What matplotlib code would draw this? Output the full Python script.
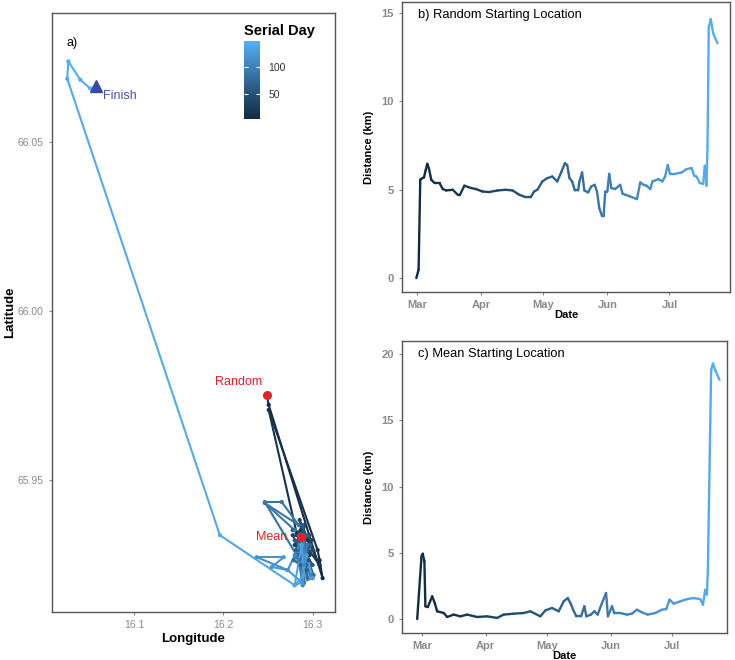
import numpy as np
import pandas as pd
import matplotlib
matplotlib.use("Agg")
import matplotlib.pyplot as plt
import matplotlib.dates as mdates
from matplotlib.collections import LineCollection
from matplotlib.colors import ListedColormap, Normalize, to_rgb

plt.rcParams['font.family'] = ['Liberation Sans', 'DejaVu Sans']

# ---- panel a: track (serial day, longitude, latitude)
track_day = [6, 7, 9, 11, 13, 15, 17, 19, 21,
             23, 25, 27, 29, 31, 33, 35, 37, 39, 41, 43, 45, 47, 49, 51, 53, 55, 57,
             59, 61, 63, 65, 67, 69, 71, 73, 75, 77, 79, 81, 83, 85, 87, 89, 91, 93,
             95, 97, 99, 101, 103, 105, 107, 109, 111, 113,
             117, 119, 121, 123, 125, 127, 129, 131, 133, 135, 137, 139,
             141, 142, 143, 145, 146]
track_lon = [16.2486, 16.2508, 16.3112, 16.3078, 16.3056, 16.2508, 16.2821, 16.3078, 16.2944,
             16.2866, 16.2966, 16.2799, 16.2911, 16.2843, 16.2988, 16.2777, 16.2922, 16.2855,
             16.3000, 16.2810, 16.2900, 16.2777, 16.2966, 16.2900, 16.2843, 16.2955, 16.2866,
             16.3000, 16.2799, 16.2933, 16.2888, 16.2810, 16.2977, 16.2866, 16.2922, 16.2788,
             16.3011, 16.2877, 16.2944, 16.2821, 16.2464, 16.2654, 16.2843, 16.2464, 16.2799,
             16.2933, 16.2888, 16.2843, 16.2977, 16.2866, 16.2910, 16.2799, 16.3000, 16.2855,
             16.2721,
             16.2374, 16.2676, 16.2542, 16.2721, 16.2888, 16.2933, 16.3000, 16.2799, 16.2877,
             16.2900, 16.2799, 16.1961,
             16.0251, 16.0263, 16.0397, 16.0508, 16.0575]
track_lat = [65.9751, 65.9722, 65.9210, 65.9263, 65.9293, 65.9707, 65.9343, 65.9249, 65.9322,
             65.9352, 65.9278, 65.9308, 65.9367, 65.9263, 65.9322, 65.9337, 65.9249, 65.9382,
             65.9293, 65.9278, 65.9343, 65.9352, 65.9337, 65.9195, 65.9337, 65.9263, 65.9308,
             65.9249, 65.9322, 65.9234, 65.9367, 65.9293, 65.9308, 65.9249, 65.9337, 65.9263,
             65.9219, 65.9322, 65.9210, 65.9278, 65.9435, 65.9435, 65.9367, 65.9432, 65.9352,
             65.9308, 65.9189, 65.9263, 65.9219, 65.9337, 65.9249, 65.9278, 65.9210, 65.9308,
             65.9234,
             65.9272, 65.9272, 65.9243, 65.9234, 65.9195, 65.9278, 65.9210, 65.9189, 65.9308,
             65.9219, 65.9189, 65.9337,
             66.0686, 66.0737, 66.0683, 66.0657, 66.0663]

random_start = (16.2486, 65.9751)
mean_start = (16.2866, 65.9331)
finish = (16.0575, 66.0663)

# ---- panel b: distance from random start (days after 1 March, km)
b_days = [-0.3, 0.8, 1.6, 2.6, 3.4, 4.2, 5.0, 5.8, 6.9, 8.5, 10.9, 12.5, 14.1, 17.3, 19.7,
          20.8, 22.9, 26.1, 28.5, 31.7, 34.9, 38.9, 42.9, 46.2, 49.4, 52.6, 55.0, 56.6,
          58.2, 60.6, 63.0, 65.4, 67.8, 69.9, 71.5, 72.6, 73.7, 75.0, 76.3, 77.9, 78.5,
          79.8, 80.9, 82.7, 84.3, 85.9, 87.0, 88.1, 89.4, 90.2, 91.0, 92.0, 92.9, 93.9,
          95.8, 98.2, 99.4, 100.6, 103.0, 106.3, 107.9, 109.5, 111.0, 112.7, 113.8, 116.7,
          118.6, 119.9, 121.2, 122.3, 124.7, 127.9, 130.3, 132.7, 134.0, 135.1, 136.7,
          138.3, 139.1, 139.9, 140.4, 141.0, 142.0, 143.1, 145.2]
b_dist = [0.0, 0.47, 5.57, 5.66, 5.70, 6.10, 6.47, 6.20, 5.57, 5.38, 5.38, 5.04, 4.96, 5.00,
          4.72, 4.72, 5.23, 5.10, 5.04, 4.90, 4.87, 4.96, 5.00, 4.96, 4.72, 4.58, 4.58, 4.90,
          5.00, 5.47, 5.66, 5.75, 5.47, 6.04, 6.50, 6.40, 5.66, 5.47, 4.96, 4.96, 5.47, 5.98,
          4.96, 4.85, 5.19, 5.28, 4.90, 3.96, 3.53, 3.53, 4.90, 4.90, 5.90, 5.10, 5.04, 5.28,
          4.77, 4.72, 4.62, 4.47, 5.42, 5.28, 5.23, 5.04, 5.47, 5.60, 5.47, 5.75, 6.40, 5.90,
          5.90, 5.98, 6.17, 6.23, 5.79, 5.75, 5.38, 5.34, 6.36, 5.23, 7.45, 14.2, 14.66,
          13.87, 13.30]

# ---- panel c: distance from mean start (days after 1 March, km)
c_days = [-2.4, -0.3, 0.3, 1.1, 1.6, 2.8, 4.9, 6.2, 7.3, 10.6, 12.2, 15.4, 18.7, 22.0,
          26.8, 31.7, 36.6, 39.8, 44.7, 49.6, 52.8, 57.7, 60.2, 63.4, 66.7, 69.1, 71.1,
          72.4, 73.7, 75.3, 77.6, 79.2, 80.2, 82.4, 84.1, 85.7, 87.8, 89.8, 90.7, 92.7,
          93.8, 96.7, 100.0, 102.4, 104.9, 107.3, 110.1, 113.8, 117.1, 119.2, 120.8, 122.8,
          126.0, 129.3, 132.5, 135.8, 137.1, 138.2, 139.0, 139.5, 141.1, 142.0, 143.1, 145.2]
c_dist = [0.0, 4.73, 4.93, 4.35, 0.96, 0.90, 1.71, 1.20, 0.58, 0.45, 0.15, 0.33, 0.20, 0.33,
          0.15, 0.20, 0.08, 0.33, 0.40, 0.45, 0.58, 0.20, 0.65, 0.83, 0.58, 1.33, 1.58, 1.20,
          0.70, 0.20, 0.20, 0.96, 0.20, 0.33, 0.58, 0.33, 1.20, 1.96, 0.20, 0.96, 0.45, 0.45,
          0.33, 0.40, 0.70, 0.50, 0.33, 0.45, 0.70, 0.75, 1.46, 1.16, 1.33, 1.50, 1.58, 1.50,
          1.08, 2.20, 1.84, 3.72, 18.8, 19.3, 18.8, 18.06]

serial_lims = (6, 146)
cbar_ticks = [50, 100]

frame_col = "#555555"
tick_col = "#8a8a8a"
red = "#E8202A"

# ggplot-style gradient: interpolate between low/high in CIE Lab
M = np.array([[0.4124564, 0.3575761, 0.1804375],
              [0.2126729, 0.7151522, 0.0721750],
              [0.0193339, 0.1191920, 0.9503041]])
WHITE = np.array([0.95047, 1.0, 1.08883])


def rgb2lab(c):
    c = np.asarray(c)
    lin = np.where(c <= 0.04045, c / 12.92, ((c + 0.055) / 1.055) ** 2.4)
    t = M @ lin / WHITE
    f = np.where(t > 0.008856, np.cbrt(t), 7.787 * t + 16 / 116)
    return np.array([116 * f[1] - 16, 500 * (f[0] - f[1]), 200 * (f[1] - f[2])])


def lab2rgb(lab):
    fy = (lab[0] + 16) / 116
    fx = fy + lab[1] / 500
    fz = fy - lab[2] / 200
    f = np.array([fx, fy, fz])
    t = np.where(f ** 3 > 0.008856, f ** 3, (f - 16 / 116) / 7.787)
    lin = np.linalg.solve(M, t * WHITE)
    lin = np.clip(lin, 0, 1)
    c = np.where(lin <= 0.0031308, 12.92 * lin, 1.055 * lin ** (1 / 2.4) - 0.055)
    return np.clip(c, 0, 1)


lo, hi = rgb2lab(to_rgb("#132B43")), rgb2lab(to_rgb("#56B1F7"))
cmap = ListedColormap([lab2rgb(lo + (hi - lo) * k) for k in np.linspace(0, 1, 256)])
norm = Normalize(*serial_lims)


def style_frame(ax):
    for s in ax.spines.values():
        s.set_color(frame_col)
        s.set_linewidth(1.0)
    ax.tick_params(colors=tick_col, length=2.5, width=0.8)


def colored_line(ax, x, y, c, lw):
    pts = np.column_stack([x, y]).reshape(-1, 1, 2)
    segs = np.concatenate([pts[:-1], pts[1:]], axis=1)
    lc = LineCollection(segs, cmap=cmap, norm=norm, linewidths=lw,
                        capstyle="round", joinstyle="round")
    lc.set_array(np.asarray(c[:-1], dtype=float))
    ax.add_collection(lc)
    return lc


fig = plt.figure(figsize=(7.35, 6.6), dpi=100)

# ---------------- panel a
ax1 = fig.add_axes([0.0707, 0.0727, 0.385, 0.9076])
colored_line(ax1, track_lon, track_lat, track_day, 1.5)
ax1.scatter(track_lon, track_lat, c=track_day, cmap=cmap, norm=norm, s=4, zorder=3)
ax1.plot(*random_start, "o", color=red, ms=5.5, zorder=5)
ax1.plot(*mean_start, "o", color=red, ms=5.5, zorder=5)
ax1.plot(*finish, "^", color="#3A49A8", ms=8, zorder=5)
ax1.annotate("Random", random_start, xytext=(-3, 5), textcoords="offset points",
             ha="right", va="bottom", color=red, fontsize=9)
ax1.annotate("Mean", mean_start, xytext=(-10, 0), textcoords="offset points",
             ha="right", va="center", color=red, fontsize=9)
ax1.annotate("Finish", finish, xytext=(5, -7), textcoords="offset points",
             ha="left", va="center", color="#4A55A8", fontsize=9)
ax1.text(0.05, 0.95, "a)", transform=ax1.transAxes, fontsize=9, va="center")
ax1.set_xlim(16.008, 16.325)
ax1.set_ylim(65.911, 66.088)
ax1.set_xticks([16.1, 16.2, 16.3])
ax1.set_yticks([65.95, 66.00, 66.05])
ax1.set_xticklabels(["16.1", "16.2", "16.3"], fontsize=7.5, color=tick_col)
ax1.set_yticklabels(["65.95", "66.00", "66.05"], fontsize=7.5, color=tick_col)
ax1.set_xlabel("Longitude", fontsize=9.5, fontweight="bold", labelpad=2)
ax1.set_ylabel("Latitude", fontsize=9.5, fontweight="bold")
ax1.yaxis.set_label_coords(-0.125, 0.5)
style_frame(ax1)

# colour bar legend
cax = fig.add_axes([244 / 735, 1 - 119 / 660, 16 / 735, 78 / 660])
grad = np.linspace(serial_lims[0], serial_lims[1], 256)[:, None]
cax.imshow(grad, aspect="auto", cmap=cmap, norm=norm, origin="lower",
           extent=[0, 1, serial_lims[0], serial_lims[1]])
cax.set_xticks([])
cax.set_yticks(cbar_ticks)
cax.set_yticklabels([str(t) for t in cbar_ticks], fontsize=7.5, color="#333333")
cax.tick_params(axis="y", direction="in", length=3, width=0.8, color="white",
                left=True, right=True, labelleft=False, labelright=True, pad=6)
for s in cax.spines.values():
    s.set_visible(False)
fig.text(244 / 735, 1 - 31 / 660, "Serial Day", fontsize=10.5, fontweight="bold",
         va="center", ha="left")

# ---------------- panels b and c
base = pd.Timestamp("2017-03-01")


def to_num(days):
    return mdates.date2num(base + pd.to_timedelta(np.asarray(days), unit="D"))


def dist_panel(rect, days, dist, title, xlim, ylim, yticks):
    ax = fig.add_axes(rect)
    x = to_num(days)
    serial = np.asarray(days) + 1
    colored_line(ax, x, dist, serial, 1.7)
    ax.set_xlim(to_num([xlim[0]])[0], to_num([xlim[1]])[0])
    ax.set_ylim(*ylim)
    ax.set_yticks(yticks)
    ax.xaxis.set_major_locator(mdates.MonthLocator())
    ax.xaxis.set_major_formatter(mdates.DateFormatter("%b"))
    for lab in ax.get_xticklabels() + ax.get_yticklabels():
        lab.set_fontsize(8)
        lab.set_fontweight("bold")
        lab.set_color(tick_col)
    ax.set_xlabel("Date", fontsize=8, fontweight="bold", labelpad=0)
    ax.set_ylabel("Distance (km)", fontsize=8, fontweight="bold", labelpad=5)
    ax.text(0.05, 0.955, title, transform=ax.transAxes, fontsize=9.3, va="center")
    style_frame(ax)
    return ax


dist_panel([0.547, 0.5576, 0.446, 0.439], b_days, b_dist,
           "b) Random Starting Location", (-7.2, 151.2), (-0.79, 15.62), [0, 5, 10, 15])
dist_panel([0.547, 0.0409, 0.442, 0.442], c_days, c_dist,
           "c) Mean Starting Location", (-9.8, 148.8), (-1.06, 20.98), [0, 5, 10, 15, 20])

fig.savefig("out.png", dpi=100)
